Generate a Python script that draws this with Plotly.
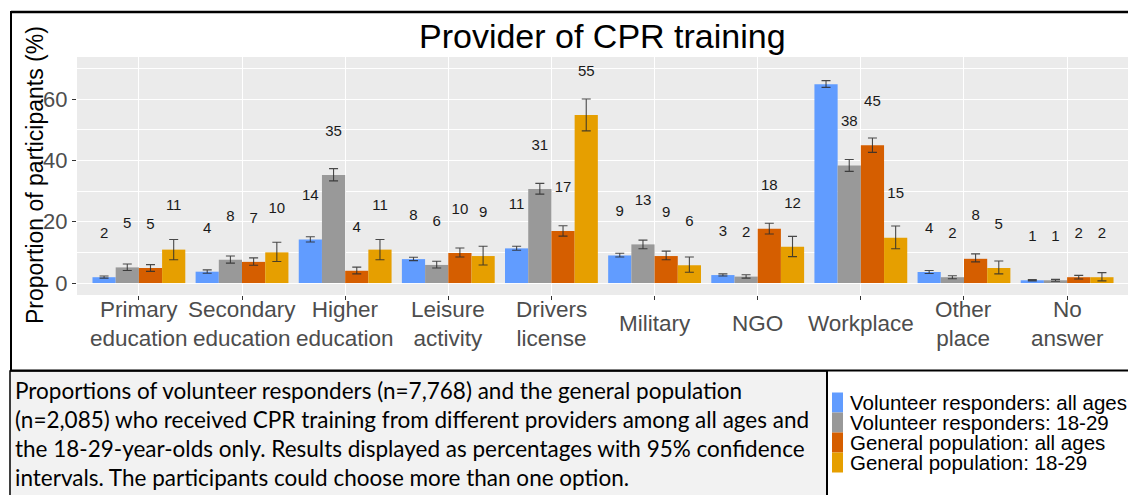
import plotly.graph_objects as go

# ---------------- data ----------------
categories = ["Primary<br>education", "Secondary<br>education", "Higher<br>education",
              "Leisure<br>activity", "Drivers<br>license", "Military", "NGO",
              "Workplace", "Other<br>place", "No<br>answer"]

series_names = ["Volunteer responders: all ages", "Volunteer responders: 18-29",
                "General population: all ages", "General population: 18-29"]

vr_all = [1.9, 3.7, 14.2, 7.8, 11.3, 9.0, 2.6, 64.8, 3.6, 0.9]
vr_all_lo = [1.6, 3.2, 13.4, 7.3, 10.7, 8.5, 2.3, 63.8, 3.1, 0.7]
vr_all_hi = [2.3, 4.3, 15.1, 8.4, 12.0, 9.7, 3.0, 66.0, 4.1, 1.1]

vr_young = [5.1, 7.6, 35.2, 5.9, 30.7, 12.6, 2.1, 38.3, 1.9, 0.9]
vr_young_lo = [4.1, 6.5, 33.3, 4.9, 29.0, 11.2, 1.6, 36.4, 1.4, 0.6]
vr_young_hi = [6.2, 8.8, 37.3, 7.1, 32.5, 14.0, 2.7, 40.3, 2.4, 1.2]

gp_all = [4.9, 6.9, 4.0, 9.8, 17.0, 8.8, 17.7, 44.9, 7.9, 1.9]
gp_all_lo = [3.8, 5.8, 3.0, 8.5, 15.3, 7.6, 16.0, 42.6, 6.9, 1.3]
gp_all_hi = [6.0, 8.2, 5.2, 11.4, 18.7, 10.4, 19.5, 47.3, 9.5, 2.5]

gp_young = [10.9, 10.0, 10.9, 8.8, 54.8, 5.8, 11.8, 14.8, 4.9, 1.9]
gp_young_lo = [7.6, 7.0, 7.6, 5.9, 49.6, 3.5, 8.6, 11.2, 3.0, 0.7]
gp_young_hi = [14.2, 13.3, 14.2, 12.0, 60.0, 8.5, 15.2, 18.6, 7.2, 3.4]

y_ticks = [0, 20, 40, 60]
y_minor = [10, 30, 50, 70]

caption_lines = [
    "Proportions of volunteer responders (n=7,768) and the general population",
    "(n=2,085) who received CPR training from different providers among all ages and",
    "the 18-29-year-olds only. Results displayed as percentages with 95% confidence",
    "intervals. The participants could choose more than one option.",
]

# ---------------- styling / layout ----------------
colors = ["#619CFF", "#999999", "#D55E00", "#E69F00"]
PAGE_W, PAGE_H = 1136, 495
BODY = 8                       # default page margin around the plot div
W, H = PAGE_W - BODY, PAGE_H - BODY
L, R, T, B = 77, 1129, 57, 295  # plot panel in page pixels
LABEL_OFFSET = 14
bar_w = 0.225
ARIAL = "Liberation Sans, Arial, sans-serif"


def px(x):
    return (x - L) / (R - L)


def py(y):
    return (B - y) / (B - T)


values = [vr_all, vr_young, gp_all, gp_young]
los = [vr_all_lo, vr_young_lo, gp_all_lo, gp_young_lo]
his = [vr_all_hi, vr_young_hi, gp_all_hi, gp_young_hi]
idx = list(range(len(categories)))

fig = go.Figure()
for i, name in enumerate(series_names):
    v, lo, hi = values[i], los[i], his[i]
    off = -0.45 + i * bar_w
    fig.add_trace(go.Bar(
        x=idx, y=v, name=name, width=bar_w, offset=off,
        marker=dict(color=colors[i], line=dict(width=0)),
        error_y=dict(type="data", symmetric=False,
                     array=[h - a for h, a in zip(hi, v)],
                     arrayminus=[a - l for a, l in zip(v, lo)],
                     color="rgba(45,45,45,0.85)", thickness=1.1, width=4.5),
        showlegend=False,
    ))
    fig.add_trace(go.Scatter(
        x=[k + off + bar_w / 2 for k in idx],
        y=[a + LABEL_OFFSET for a in v],
        text=[f"{a:.0f}" for a in v],
        mode="text", textposition="middle center",
        textfont=dict(family=ARIAL, size=15, color="#1a1a1a"),
        cliponaxis=True, showlegend=False, hoverinfo="skip",
    ))

annotations = []
for k, c in enumerate(categories):
    annotations.append(dict(x=k, xref="x", y=py(323.5), yref="paper", text=c,
                            showarrow=False, xanchor="center", yanchor="middle",
                            font=dict(family=ARIAL, size=22.5, color="#4d4d4d")))
annotations.append(dict(x=px(602), y=py(36), xref="paper", yref="paper",
                        text="Provider of CPR training", showarrow=False,
                        xanchor="center", yanchor="middle",
                        font=dict(family=ARIAL, size=34, color="black")))
annotations.append(dict(x=px(35), y=py(175), xref="paper", yref="paper",
                        text="Proportion of participants (%)", showarrow=False,
                        textangle=-90, xanchor="center", yanchor="middle",
                        font=dict(family=ARIAL, size=23, color="black")))
cap_y = [390, 419, 448.5, 477.5]
for line, yy in zip(caption_lines, cap_y):
    annotations.append(dict(x=px(13), y=py(yy), xref="paper", yref="paper",
                            text=line, showarrow=False, xanchor="left", yanchor="middle",
                            font=dict(family="Lato, sans-serif", size=22.5, color="black")))
leg_top = 392
for i, name in enumerate(series_names):
    annotations.append(dict(x=px(848), y=py(leg_top + 20 * i + 10.5), xref="paper", yref="paper",
                            text=name, showarrow=False, xanchor="left", yanchor="middle",
                            font=dict(family=ARIAL, size=20.5, color="black")))

shapes = []
shapes.append(dict(type="rect", xref="paper", yref="paper",
                   x0=px(10), x1=px(827), y0=py(371), y1=py(497),
                   fillcolor="#F2F2F2", line=dict(color="black", width=1.5), layer="below"))
shapes.append(dict(type="line", xref="paper", yref="paper", x0=px(11), x1=px(1140),
                   y0=py(12), y1=py(12), line=dict(color="black", width=2.5)))
shapes.append(dict(type="line", xref="paper", yref="paper", x0=px(11), x1=px(11),
                   y0=py(11), y1=py(371), line=dict(color="black", width=2)))
shapes.append(dict(type="line", xref="paper", yref="paper", x0=px(10), x1=px(1140),
                   y0=py(370.5), y1=py(370.5), line=dict(color="black", width=2)))
shapes.append(dict(type="line", xref="paper", yref="paper", x0=px(827), x1=px(827),
                   y0=py(370), y1=py(497), line=dict(color="black", width=2)))
for i in range(len(series_names)):
    shapes.append(dict(type="rect", xref="paper", yref="paper",
                       x0=px(832), x1=px(843),
                       y0=py(leg_top + 20 * i + 20.5), y1=py(leg_top + 20 * i + 0.5),
                       fillcolor=colors[i], line=dict(width=0)))

fig.update_layout(
    width=W, height=H,
    margin=dict(l=L - BODY, r=PAGE_W - R, t=T - BODY, b=PAGE_H - B, pad=0),
    paper_bgcolor="white", plot_bgcolor="#EBEBEB",
    barmode="overlay",
    xaxis=dict(range=[-0.6, 9.6], tickvals=idx, showticklabels=False,
               ticks="outside", ticklen=4, tickcolor="#333333", tickwidth=1,
               showgrid=True, gridcolor="white", gridwidth=1.1, zeroline=False,
               showline=False, fixedrange=True),
    yaxis=dict(range=[-3.9, 73.7], tickvals=y_ticks, ticks="outside", ticklen=4,
               tickcolor="#333333", tickwidth=1,
               tickfont=dict(family=ARIAL, size=22, color="#4d4d4d"),
               showgrid=True, gridcolor="white", gridwidth=1.1, zeroline=False,
               showline=False,
               minor=dict(tickvals=y_minor, showgrid=True, gridcolor="white",
                          gridwidth=0.5, ticklen=0)),
    annotations=annotations, shapes=shapes,
    font=dict(family=ARIAL),
)

fig.write_html("out.html")
